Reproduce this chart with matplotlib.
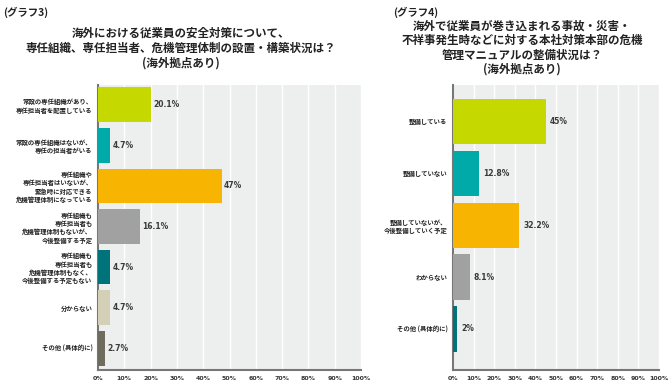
import matplotlib.pyplot as plt

plt.rcParams['font.family'] = ['Noto Sans CJK JP', 'DejaVu Sans']

# グラフ3
labels3 = ['常設の専任組織があり、\n専任担当者を配置している',
           '常設の専任組織はないが、\n専任の担当者がいる',
           '専任組織や\n専任担当者はいないが、\n緊急時に対応できる\n危機管理体制になっている',
           '専任組織も\n専任担当者も\n危機管理体制もないが、\n今後整備する予定',
           '専任組織も\n専任担当者も\n危機管理体制もなく、\n今後整備する予定もない',
           '分からない',
           'その他 (具体的に)']
values3 = [20.1, 4.7, 47, 16.1, 4.7, 4.7, 2.7]
texts3 = ['20.1%', '4.7%', '47%', '16.1%', '4.7%', '4.7%', '2.7%']
colors3 = ['#c5d800', '#00aaa9', '#f7b400', '#a0a1a0', '#00727a', '#d4d0b8', '#6f6c5f']

# グラフ4
labels4 = ['整備している', '整備していない', '整備していないが、\n今後整備していく予定',
           'わからない', 'その他 (具体的に)']
values4 = [45, 12.8, 32.2, 8.1, 2]
texts4 = ['45%', '12.8%', '32.2%', '8.1%', '2%']
colors4 = ['#c5d800', '#00aaa9', '#f7b400', '#a0a1a0', '#00727a']

ticks = list(range(0, 101, 10))
tick_labels = [f'{t}%' for t in ticks]

W, H = 670, 387
fig = plt.figure(figsize=(W / 100, H / 100), dpi=100)


def box(x0, y0, x1, y1):
    return [x0 / W, 1 - y1 / H, (x1 - x0) / W, (y1 - y0) / H]


def draw(ax, labels, values, texts, colors, ylim, height, offset):
    ax.set_facecolor('#edeeee')
    y = list(range(len(values)))
    ax.barh(y, values, height=height, color=colors, zorder=3)
    for yi, v, t in zip(y, values, texts):
        ax.text(v + offset, yi, t, va='center', ha='left', fontsize=5.5,
                fontweight='bold', color='#3a3a3a', family='DejaVu Sans', zorder=4)
    ax.set_xlim(0, 100)
    ax.set_ylim(*ylim)
    ax.set_xticks(ticks)
    ax.set_xticklabels(tick_labels, fontsize=4.5, fontweight='bold',
                       color='#333333', family='DejaVu Sans')
    ax.set_yticks(y)
    ax.set_yticklabels(labels, fontsize=4.6, fontweight='bold', color='#222222',
                       linespacing=1.2)
    ax.tick_params(length=0, pad=4)
    ax.grid(axis='x', color='white', linewidth=1.0, zorder=1)
    for s in ['top', 'right']:
        ax.spines[s].set_visible(False)
    for s in ['left', 'bottom']:
        ax.spines[s].set_color('#777777')
        ax.spines[s].set_linewidth(1.5)
    ax.set_axisbelow(True)


ax1 = fig.add_axes(box(98, 85, 361, 370))
draw(ax1, labels3, values3, texts3, colors3, (6.54, -0.49), 0.86, 0.8)

ax2 = fig.add_axes(box(453, 85, 659, 370))
draw(ax2, labels4, values4, texts4, colors4, (4.79, -0.7), 0.87, 2.0)

# titles
fig.text(3 / W, 1 - 12 / H, '(グラフ3)', fontsize=7.5, fontweight='bold',
         va='center', ha='left', color='#222222')
t3 = ['海外における従業員の安全対策について、',
      '専任組織、専任担当者、危機管理体制の設置・構築状況は？',
      '(海外拠点あり)']
for i, line in enumerate(t3):
    fig.text(181 / W, 1 - (33 + 15 * i) / H, line, fontsize=8.3, fontweight='bold',
             va='center', ha='center', color='#222222')

fig.text(393 / W, 1 - 12 / H, '(グラフ4)', fontsize=7.5, fontweight='bold',
         va='center', ha='left', color='#222222')
t4 = ['海外で従業員が巻き込まれる事故・災害・',
      '不祥事発生時などに対する本社対策本部の危機',
      '管理マニュアルの整備状況は？',
      '(海外拠点あり)']
for i, line in enumerate(t4):
    fig.text(522 / W, 1 - (26 + 14.5 * i) / H, line, fontsize=8.3, fontweight='bold',
             va='center', ha='center', color='#222222')

fig.savefig('out.png', dpi=100)
